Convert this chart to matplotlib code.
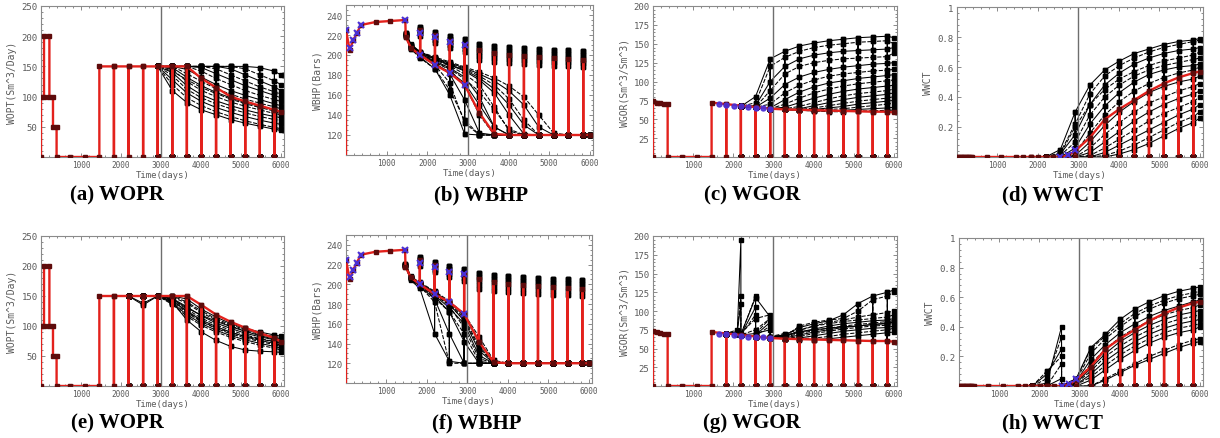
import matplotlib
matplotlib.use("Agg")
import matplotlib.pyplot as plt
from matplotlib.ticker import FixedLocator, MultipleLocator, FixedFormatter

plt.rcParams["font.family"] = ["DejaVu Sans Mono", "DejaVu Sans"]

# ------------------------------------------------------------------
# common schedule
# ------------------------------------------------------------------
shut_days = [1825, 2190, 2555, 2920, 3285, 3650, 4015, 4380, 4745, 5110, 5475, 5840]
history_end_day = 3000
x_ticks = [1000, 2000, 3000, 4000, 5000, 6000]

# ------------------------------------------------------------------
# WOPR  (oil production rate)
# ------------------------------------------------------------------
wopr_truth_days = [0, 0, 75, 75, 210, 210, 300, 300, 390, 390, 730, 1095, 1460, 1460,
                   1825, 2190, 2555, 2920, 3285, 3650, 4015, 4380, 4745, 5110, 5475, 5840, 6000]
wopr_truth_top = [0, 100, 100, 200, 200, 100, 100, 50, 50, 0, 0, 0, 0, 150,
                  150, 150, 150, 150, 150, 150, 130, 115, 100, 92, 85, 78, 75]
wopr_truth_bottom = [0, 100, 100, 200, 200, 100, 100, 50, 50, 0, 0, 0, 0, 150,
                     150, 150, 150, 150, 150, 150, 135, 119, 107, 97, 88, 80, 74]

wopr_days_top = [2920, 3285, 3650, 4015, 4380, 4745, 5110, 5475, 5840, 6000]
wopr_members_top = [
    [150, 150, 150, 150, 150, 150, 150, 148, 142, 136],
    [150, 150, 150, 150, 150, 150, 146, 136, 126, 120],
    [150, 150, 150, 150, 150, 146, 136, 126, 116, 110],
    [150, 150, 150, 150, 146, 136, 126, 116, 108, 104],
    [150, 150, 150, 148, 138, 128, 118, 110, 102, 98],
    [150, 150, 150, 142, 130, 120, 110, 102, 95, 92],
    [150, 150, 145, 132, 120, 110, 102, 95, 88, 85],
    [150, 150, 138, 125, 113, 104, 96, 89, 83, 80],
    [150, 148, 132, 118, 107, 98, 90, 84, 78, 75],
    [150, 145, 125, 110, 100, 91, 84, 78, 72, 70],
    [150, 140, 118, 103, 93, 85, 78, 72, 67, 65],
    [150, 135, 112, 98, 88, 80, 73, 67, 62, 60],
    [150, 128, 106, 92, 82, 74, 67, 61, 56, 54],
    [150, 120, 98, 85, 75, 67, 60, 54, 49, 47],
    [150, 110, 90, 78, 70, 62, 56, 51, 46, 44],
    [150, 142, 128, 115, 105, 96, 88, 82, 76, 72],
]

wopr_days_bottom = [2190, 2555, 2920, 3285, 3650, 4015, 4380, 4745, 5110, 5475, 5840, 6000]
wopr_members_bottom = [
    [150, 150, 150, 150, 145, 128, 115, 104, 96, 90, 85, 83],
    [150, 150, 150, 148, 138, 122, 110, 100, 92, 86, 80, 78],
    [150, 135, 150, 146, 132, 117, 105, 96, 88, 82, 77, 74],
    [150, 150, 150, 144, 128, 113, 102, 93, 85, 79, 74, 71],
    [150, 138, 150, 142, 125, 110, 99, 90, 82, 76, 71, 68],
    [150, 150, 150, 140, 122, 107, 96, 87, 80, 74, 69, 66],
    [150, 150, 150, 138, 119, 104, 93, 84, 77, 71, 66, 63],
    [150, 150, 150, 136, 116, 101, 90, 81, 74, 68, 63, 60],
    [150, 150, 150, 140, 110, 90, 76, 66, 60, 58, 57, 56],
    [150, 150, 150, 150, 140, 125, 112, 102, 94, 88, 82, 80],
    [150, 150, 150, 145, 130, 118, 108, 99, 91, 84, 78, 75],
    [150, 150, 150, 143, 124, 108, 97, 89, 83, 78, 74, 72],
]

# ------------------------------------------------------------------
# WBHP  (bottom hole pressure)
# ------------------------------------------------------------------
wbhp_truth_days = [0, 0, 90, 180, 270, 365, 730, 1095, 1460, 1470, 1600, 1825, 2190, 2555,
                   2920, 3285, 3650, 4015, 4380, 4745, 5110, 5475, 5840, 6000]
wbhp_truth = [0, 225, 205, 215, 222, 230, 233, 234, 235, 218, 207, 200, 190, 182,
              170, 142, 121, 120, 120, 120, 120, 120, 120, 120]
wbhp_truth_shut = [225, 220, 214, 210, 205, 202, 200, 199, 198, 197, 196, 195]

wbhp_obs_days = [0, 90, 180, 270, 365, 1460, 1825, 1825, 2190, 2190, 2555, 2555, 2920, 2920]
wbhp_obs = [225, 207, 215, 222, 230, 235, 200, 222, 190, 218, 182, 213, 170, 210]

# shut-in pressures of the ensemble at each shut day
wbhp_shut_profiles = [
    [228, 223, 219, 216, 211, 209, 208, 207, 206, 205, 205, 204],
    [226, 220, 216, 212, 207, 205, 204, 203, 202, 201, 201, 200],
    [224, 218, 213, 209, 203, 201, 200, 199, 198, 197, 197, 196],
    [222, 215, 210, 206, 199, 197, 196, 195, 194, 193, 193, 192],
    [219, 212, 207, 203, 195, 193, 192, 191, 190, 189, 189, 188],
]

wbhp_days = [1470, 1600, 1825, 2190, 2555, 2920, 3285, 3650, 4015, 4380, 4745, 5110, 5475, 5840, 6000]
wbhp_members_top = [
    [218, 206, 198, 186, 160, 121, 120, 120, 120, 120, 120, 120, 120, 120, 120],
    [219, 207, 199, 190, 172, 132, 120, 120, 120, 120, 120, 120, 120, 120, 120],
    [219, 207, 200, 192, 181, 155, 122, 120, 120, 120, 120, 120, 120, 120, 120],
    [220, 208, 200, 193, 185, 170, 140, 120, 120, 120, 120, 120, 120, 120, 120],
    [220, 208, 201, 194, 187, 178, 158, 128, 120, 120, 120, 120, 120, 120, 120],
    [221, 209, 201, 195, 189, 181, 170, 148, 124, 120, 120, 120, 120, 120, 120],
    [221, 209, 202, 196, 190, 184, 175, 162, 140, 121, 120, 120, 120, 120, 120],
    [221, 210, 202, 197, 191, 186, 179, 170, 156, 135, 120, 120, 120, 120, 120],
    [222, 210, 203, 197, 192, 187, 181, 174, 164, 150, 128, 120, 120, 120, 120],
    [222, 211, 203, 198, 193, 188, 183, 177, 169, 158, 140, 122, 120, 120, 120],
    [220, 207, 199, 191, 183, 172, 150, 128, 120, 120, 120, 120, 120, 120, 120],
    [221, 208, 200, 193, 186, 176, 163, 145, 126, 120, 120, 120, 120, 120, 120],
    [222, 210, 202, 196, 190, 185, 177, 166, 150, 130, 120, 120, 120, 120, 120],
    [219, 206, 197, 186, 165, 135, 120, 120, 120, 120, 120, 120, 120, 120, 120],
]
wbhp_members_bottom = [
    [218, 205, 198, 185, 150, 120, 120, 120, 120, 120, 120, 120, 120, 120, 120],
    [219, 205, 198, 182, 120, 120, 120, 120, 120, 120, 120, 120, 120, 120, 120],
    [219, 206, 199, 188, 172, 142, 120, 120, 120, 120, 120, 120, 120, 120, 120],
    [220, 206, 200, 190, 178, 156, 125, 120, 120, 120, 120, 120, 120, 120, 120],
    [220, 207, 200, 191, 180, 163, 133, 120, 120, 120, 120, 120, 120, 120, 120],
    [220, 207, 201, 192, 181, 166, 138, 120, 120, 120, 120, 120, 120, 120, 120],
    [221, 207, 201, 192, 182, 168, 143, 121, 120, 120, 120, 120, 120, 120, 120],
    [221, 208, 202, 193, 183, 170, 147, 123, 120, 120, 120, 120, 120, 120, 120],
    [220, 206, 199, 189, 176, 160, 128, 120, 120, 120, 120, 120, 120, 120, 120],
    [221, 207, 200, 190, 179, 164, 136, 120, 120, 120, 120, 120, 120, 120, 120],
    [219, 204, 196, 150, 122, 120, 120, 120, 120, 120, 120, 120, 120, 120, 120],
    [220, 206, 199, 186, 172, 150, 122, 120, 120, 120, 120, 120, 120, 120, 120],
]

# ------------------------------------------------------------------
# WGOR  (gas-oil ratio)
# ------------------------------------------------------------------
wgor_truth_days = [0, 0, 91, 182, 273, 365, 365, 730, 1095, 1460, 1460, 1825, 2190, 2555,
                   2920, 3285, 3650, 4015, 4380, 4745, 5110, 5475, 5840, 6000]
wgor_truth = [0, 74, 72, 71, 70, 70, 0, 0, 0, 0, 72, 70, 68, 66,
              64, 63, 62.5, 62, 61.5, 61, 60.5, 60, 60, 59]
wgor_obs_days = [1640, 1825, 2010, 2190, 2370, 2555, 2740, 2920]
wgor_obs = [70, 69, 68, 67, 66, 65, 65, 64]

wgor_days_top = [2190, 2555, 2920, 3285, 3650, 4015, 4380, 4745, 5110, 5475, 5840, 6000]
wgor_members_top = [
    [67, 80, 130, 140, 147, 151, 154, 156, 158, 159, 160, 158],
    [67, 72, 120, 132, 140, 145, 148, 150, 152, 153, 154, 150],
    [67, 68, 100, 120, 130, 135, 138, 140, 141, 142, 143, 145],
    [67, 66, 88, 110, 120, 125, 128, 130, 131, 132, 133, 138],
    [67, 66, 78, 96, 106, 112, 116, 119, 121, 123, 124, 125],
    [67, 66, 70, 85, 95, 102, 107, 110, 112, 114, 115, 116],
    [67, 66, 65, 76, 86, 93, 98, 101, 104, 106, 108, 109],
    [67, 66, 64, 70, 78, 85, 90, 94, 97, 99, 101, 102],
    [67, 66, 64, 66, 72, 78, 83, 87, 90, 92, 94, 95],
    [67, 66, 64, 64, 67, 72, 77, 81, 84, 86, 88, 90],
    [67, 66, 64, 63, 64, 68, 72, 76, 79, 81, 83, 85],
    [67, 66, 64, 63, 63, 65, 68, 71, 74, 76, 78, 80],
    [67, 66, 64, 63, 62, 63, 65, 67, 70, 72, 74, 75],
    [67, 66, 64, 63, 62, 62, 63, 64, 66, 68, 70, 71],
    [67, 66, 64, 63, 62, 61, 61, 62, 63, 64, 65, 66],
    [67, 66, 64, 63, 62, 61, 60, 60, 61, 61, 62, 62],
]

wgor_days_bottom = [1825, 2100, 2190, 2555, 2920, 3285, 3650, 4015, 4380, 4745, 5110, 5475, 5840, 6000]
wgor_members_bottom = [
    [70, 72, 195, 70, 75, 68, 72, 75, 77, 79, 80, 82, 84, 85],
    [70, 75, 120, 90, 95, 70, 75, 80, 83, 86, 88, 90, 92, 95],
    [70, 72, 110, 118, 92, 68, 78, 83, 87, 95, 110, 120, 125, 128],
    [70, 69, 68, 120, 90, 66, 80, 85, 88, 90, 100, 115, 120, 125],
    [70, 69, 68, 105, 85, 66, 72, 76, 80, 83, 85, 87, 88, 90],
    [70, 69, 68, 95, 80, 65, 70, 74, 77, 80, 82, 84, 86, 87],
    [70, 69, 68, 66, 64, 64, 68, 72, 75, 78, 80, 82, 83, 85],
    [70, 69, 68, 66, 64, 63, 66, 70, 73, 76, 78, 80, 81, 82],
    [70, 69, 68, 66, 64, 63, 64, 67, 70, 73, 75, 77, 78, 80],
    [70, 69, 68, 66, 64, 63, 63, 64, 66, 69, 71, 73, 75, 77],
    [70, 69, 68, 66, 64, 63, 62, 62, 63, 65, 67, 69, 71, 72],
    [70, 69, 68, 75, 90, 66, 74, 80, 85, 88, 92, 95, 98, 100],
]
# value a member restarts from after a shut-in (when it differs from the pre-shut value)
wgor_restart_bottom = {
    0: {2190: 68, 2920: 65},
    1: {2190: 70, 2920: 66},
    2: {2190: 69, 2920: 66},
    3: {2555: 70, 2920: 66},
    4: {2555: 68, 2920: 65},
    5: {2555: 67, 2920: 65},
    11: {2920: 65},
}

# ------------------------------------------------------------------
# WWCT  (water cut)
# ------------------------------------------------------------------
wwct_truth_days = [0, 30, 61, 91, 122, 152, 182, 213, 243, 274, 304, 335, 365, 730, 1095, 1460,
                   1640, 1825, 2010, 2190, 2370, 2555, 2740, 2920, 3285, 3650, 4015, 4380,
                   4745, 5110, 5475, 5840, 6000]
wwct_truth = [0, 0, 0, 0, 0, 0, 0, 0, 0, 0, 0, 0, 0, 0, 0, 0,
              0, 0, 0, 0, 0, 0.0, 0.01, 0.04, 0.13, 0.25, 0.32, 0.38,
              0.44, 0.49, 0.53, 0.56, 0.57]
wwct_obs_days = [2555, 2740, 2920]
wwct_obs = [0.0, 0.015, 0.05]

wwct_days_top = [2190, 2555, 2920, 3285, 3650, 4015, 4380, 4745, 5110, 5475, 5840, 6000]
wwct_members_top = [
    [0, 0.05, 0.30, 0.48, 0.58, 0.64, 0.69, 0.72, 0.75, 0.77, 0.78, 0.79],
    [0, 0.03, 0.22, 0.42, 0.54, 0.61, 0.66, 0.70, 0.73, 0.75, 0.77, 0.78],
    [0, 0.02, 0.15, 0.35, 0.48, 0.56, 0.62, 0.66, 0.69, 0.71, 0.72, 0.73],
    [0, 0.01, 0.10, 0.28, 0.40, 0.48, 0.54, 0.58, 0.61, 0.63, 0.65, 0.66],
    [0, 0.0, 0.06, 0.22, 0.34, 0.43, 0.50, 0.55, 0.58, 0.60, 0.61, 0.62],
    [0, 0.0, 0.03, 0.16, 0.28, 0.37, 0.44, 0.49, 0.53, 0.56, 0.58, 0.60],
    [0, 0.0, 0.01, 0.10, 0.21, 0.30, 0.37, 0.43, 0.47, 0.50, 0.52, 0.54],
    [0, 0.0, 0.0, 0.06, 0.15, 0.23, 0.30, 0.36, 0.40, 0.44, 0.47, 0.49],
    [0, 0.0, 0.0, 0.03, 0.10, 0.17, 0.24, 0.30, 0.35, 0.39, 0.42, 0.44],
    [0, 0.0, 0.0, 0.01, 0.06, 0.12, 0.18, 0.24, 0.29, 0.33, 0.37, 0.40],
    [0, 0.0, 0.0, 0.0, 0.03, 0.08, 0.13, 0.18, 0.23, 0.28, 0.32, 0.35],
    [0, 0.0, 0.0, 0.0, 0.01, 0.04, 0.08, 0.13, 0.18, 0.23, 0.27, 0.30],
    [0, 0.0, 0.0, 0.0, 0.0, 0.02, 0.05, 0.09, 0.14, 0.19, 0.23, 0.26],
    [0, 0.02, 0.20, 0.35, 0.45, 0.52, 0.57, 0.61, 0.64, 0.66, 0.68, 0.70],
]

wwct_days_bottom = [1825, 2190, 2555, 2920, 3285, 3650, 4015, 4380, 4745, 5110, 5475, 5840, 6000]
wwct_members_bottom = [
    [0, 0.02, 0.40, 0.05, 0.26, 0.35, 0.45, 0.52, 0.57, 0.61, 0.64, 0.66, 0.67],
    [0, 0.05, 0.33, 0.04, 0.22, 0.32, 0.40, 0.47, 0.52, 0.56, 0.59, 0.61, 0.62],
    [0, 0.08, 0.25, 0.03, 0.18, 0.28, 0.36, 0.42, 0.47, 0.51, 0.54, 0.57, 0.58],
    [0, 0.0, 0.15, 0.02, 0.15, 0.25, 0.33, 0.39, 0.44, 0.48, 0.51, 0.53, 0.55],
    [0, 0.0, 0.05, 0.02, 0.12, 0.22, 0.30, 0.36, 0.41, 0.45, 0.48, 0.50, 0.51],
    [0, 0.0, 0.0, 0.02, 0.10, 0.20, 0.27, 0.33, 0.38, 0.42, 0.45, 0.47, 0.48],
    [0, 0.0, 0.0, 0.01, 0.08, 0.17, 0.24, 0.30, 0.35, 0.39, 0.42, 0.44, 0.45],
    [0, 0.0, 0.0, 0.01, 0.06, 0.14, 0.21, 0.27, 0.32, 0.36, 0.39, 0.41, 0.42],
    [0, 0.0, 0.0, 0.0, 0.04, 0.11, 0.18, 0.24, 0.29, 0.33, 0.36, 0.38, 0.40],
    [0, 0.0, 0.0, 0.0, 0.0, 0.05, 0.10, 0.15, 0.20, 0.24, 0.28, 0.31, 0.32],
    [0, 0.0, 0.0, 0.0, 0.0, 0.04, 0.09, 0.14, 0.18, 0.22, 0.26, 0.29, 0.30],
    [0, 0.10, 0.20, 0.05, 0.25, 0.34, 0.42, 0.49, 0.54, 0.58, 0.61, 0.63, 0.64],
]
wwct_restart_bottom = {0: {2555: 0.0}, 1: {2555: 0.0}, 2: {2555: 0.0}, 3: {2555: 0.0},
                       4: {2555: 0.0}, 11: {2555: 0.0}}

# ------------------------------------------------------------------
# drawing helpers
# ------------------------------------------------------------------
RED = "#e3211c"
RED_MARK = "#5e0b0b"
BLUE = "#4a2fd6"
TXT = "#5a5a5a"


def with_shutins(days, vals, shut_map, restart=None):
    """Insert the vertical excursion to the shut-in value at each shut day."""
    restart = restart or {}
    xs, ys = [], []
    for d, v in zip(days, vals):
        xs.append(d)
        ys.append(v)
        if d in shut_map:
            xs.extend([d, d])
            ys.extend([shut_map[d], restart.get(d, v)])
    return xs, ys


def zero_shut():
    return {d: 0.0 for d in shut_days}


def draw_panel(ax, truth_days, truth_vals, truth_shut, member_days, members,
               member_shut, restarts=None, obs=None, obs_marker="x"):
    restarts = restarts or {}
    for i, vals in enumerate(members):
        xs, ys = with_shutins(member_days, vals, member_shut(i), restarts.get(i))
        ax.plot(xs, ys, color="black", lw=0.75,
                ls="-" if i % 2 == 0 else (0, (4, 1.5)),
                marker="s", ms=3.0, mfc="black", mec="black", zorder=2)
    ax.axvline(history_end_day, color="#6e6e6e", lw=1.0, zorder=2.5)
    xs, ys = with_shutins(truth_days, truth_vals, truth_shut)
    ax.plot(xs, ys, color=RED, lw=1.7, marker="s", ms=3.0,
            mfc=RED_MARK, mec=RED_MARK, zorder=3)
    if obs is not None:
        od, ov = obs
        if obs_marker == "o":
            ax.plot(od, ov, ls="none", marker="o", ms=3.6, mfc=BLUE, mec=BLUE,
                    alpha=0.9, zorder=4)
        else:
            ax.plot(od, ov, ls="none", marker="x", ms=4.5, mew=1.5, color=BLUE,
                    zorder=4)


def style_axes(ax, ylim, yticks, ylabels, ylabel, yminor):
    ax.set_xlim(0, 6080)
    ax.set_ylim(*ylim)
    ax.xaxis.set_major_locator(FixedLocator(x_ticks))
    ax.xaxis.set_minor_locator(MultipleLocator(200))
    ax.yaxis.set_major_locator(FixedLocator(yticks))
    ax.yaxis.set_major_formatter(FixedFormatter(ylabels))
    ax.yaxis.set_minor_locator(MultipleLocator(yminor))
    ax.tick_params(which="both", direction="in", top=True, right=True,
                   colors="#777777", labelcolor=TXT, width=0.6)
    ax.tick_params(which="major", length=3)
    ax.tick_params(which="minor", length=1.5)
    ax.tick_params(axis="x", labelsize=5.6, pad=2.5)
    ax.tick_params(axis="y", labelsize=6.5, pad=2.5)
    for sp in ax.spines.values():
        sp.set_color("#8a8a8a")
        sp.set_linewidth(0.8)
    ax.set_xlabel("Time(days)", fontsize=6.5, color=TXT, labelpad=0.5)
    ax.set_ylabel(ylabel, fontsize=7, color=TXT, labelpad=3)


# ------------------------------------------------------------------
# figure
# ------------------------------------------------------------------
W, H = 1220, 439
fig = plt.figure(figsize=(W / 100, H / 100), dpi=100)


def add_axes(l, t, r, b):
    return fig.add_axes([l / W, 1 - b / H, (r - l) / W, (b - t) / H])


boxes = {
    "a": (41, 7, 284, 158), "b": (346, 6, 593, 156),
    "c": (653, 7, 897, 158), "d": (957, 8, 1203, 158),
    "e": (41, 237, 284, 387), "f": (346, 236, 592, 384),
    "g": (653, 237, 897, 387), "h": (959, 239, 1203, 387),
}
captions = {
    "a": ("(a) WOPR", 117, 195), "b": ("(b) WBHP", 481, 195),
    "c": ("(c) WGOR", 752, 195), "d": ("(d) WWCT", 1052, 195),
    "e": ("(e) WOPR", 117, 423), "f": ("(f) WBHP", 477, 423),
    "g": ("(g) WGOR", 752, 423), "h": ("(h) WWCT", 1052, 423),
}

wopr_style = dict(ylim=(0, 250), yticks=[50, 100, 150, 200, 250],
                  ylabels=["50", "100", "150", "200", "250"],
                  ylabel="WOPT(Sm^3/Day)", yminor=10)
wbhp_style = dict(ylim=(100, 250), yticks=[120, 140, 160, 180, 200, 220, 240],
                  ylabels=["120", "140", "160", "180", "200", "220", "240"],
                  ylabel="WBHP(Bars)", yminor=5)
wgor_style = dict(ylim=(0, 200), yticks=[25, 50, 75, 100, 125, 150, 175, 200],
                  ylabels=["25", "50", "75", "100", "125", "150", "175", "200"],
                  ylabel="WGOR(Sm^3/Sm^3)", yminor=5)
wwct_style = dict(ylim=(0, 1), yticks=[0.2, 0.4, 0.6, 0.8, 1.0],
                  ylabels=["0.2", "0.4", "0.6", "0.8", "1"],
                  ylabel="WWCT", yminor=0.04)

bhp_truth_shut = dict(zip(shut_days, wbhp_truth_shut))


def bhp_member_shut(i):
    return dict(zip(shut_days, wbhp_shut_profiles[i % len(wbhp_shut_profiles)]))


def rate_member_shut(i):
    return zero_shut()


# WOPR
ax = add_axes(*boxes["a"])
draw_panel(ax, wopr_truth_days, wopr_truth_top, zero_shut(), wopr_days_top,
           wopr_members_top, rate_member_shut)
style_axes(ax, **wopr_style)
ax = add_axes(*boxes["e"])
draw_panel(ax, wopr_truth_days, wopr_truth_bottom, zero_shut(), wopr_days_bottom,
           wopr_members_bottom, rate_member_shut)
style_axes(ax, **wopr_style)

# WBHP
ax = add_axes(*boxes["b"])
draw_panel(ax, wbhp_truth_days, wbhp_truth, bhp_truth_shut, wbhp_days,
           wbhp_members_top, bhp_member_shut, obs=(wbhp_obs_days, wbhp_obs))
style_axes(ax, **wbhp_style)
ax = add_axes(*boxes["f"])
draw_panel(ax, wbhp_truth_days, wbhp_truth, bhp_truth_shut, wbhp_days,
           wbhp_members_bottom, bhp_member_shut, obs=(wbhp_obs_days, wbhp_obs))
style_axes(ax, **wbhp_style)

# WGOR
ax = add_axes(*boxes["c"])
draw_panel(ax, wgor_truth_days, wgor_truth, zero_shut(), wgor_days_top,
           wgor_members_top, rate_member_shut, obs=(wgor_obs_days, wgor_obs),
           obs_marker="o")
style_axes(ax, **wgor_style)
ax = add_axes(*boxes["g"])
draw_panel(ax, wgor_truth_days, wgor_truth, zero_shut(), wgor_days_bottom,
           wgor_members_bottom, rate_member_shut, restarts=wgor_restart_bottom,
           obs=(wgor_obs_days, wgor_obs), obs_marker="o")
style_axes(ax, **wgor_style)

# WWCT
ax = add_axes(*boxes["d"])
draw_panel(ax, wwct_truth_days, wwct_truth, zero_shut(), wwct_days_top,
           wwct_members_top, rate_member_shut, obs=(wwct_obs_days, wwct_obs))
style_axes(ax, **wwct_style)
ax = add_axes(*boxes["h"])
draw_panel(ax, wwct_truth_days, wwct_truth, zero_shut(), wwct_days_bottom,
           wwct_members_bottom, rate_member_shut, restarts=wwct_restart_bottom,
           obs=(wwct_obs_days, wwct_obs))
style_axes(ax, **wwct_style)

for text, cx, cy in captions.values():
    fig.text(cx / W, 1 - cy / H, text, ha="center", va="center",
             fontsize=15, fontweight="bold", family=["Liberation Serif", "DejaVu Serif"])

fig.savefig("out.png", dpi=100)
